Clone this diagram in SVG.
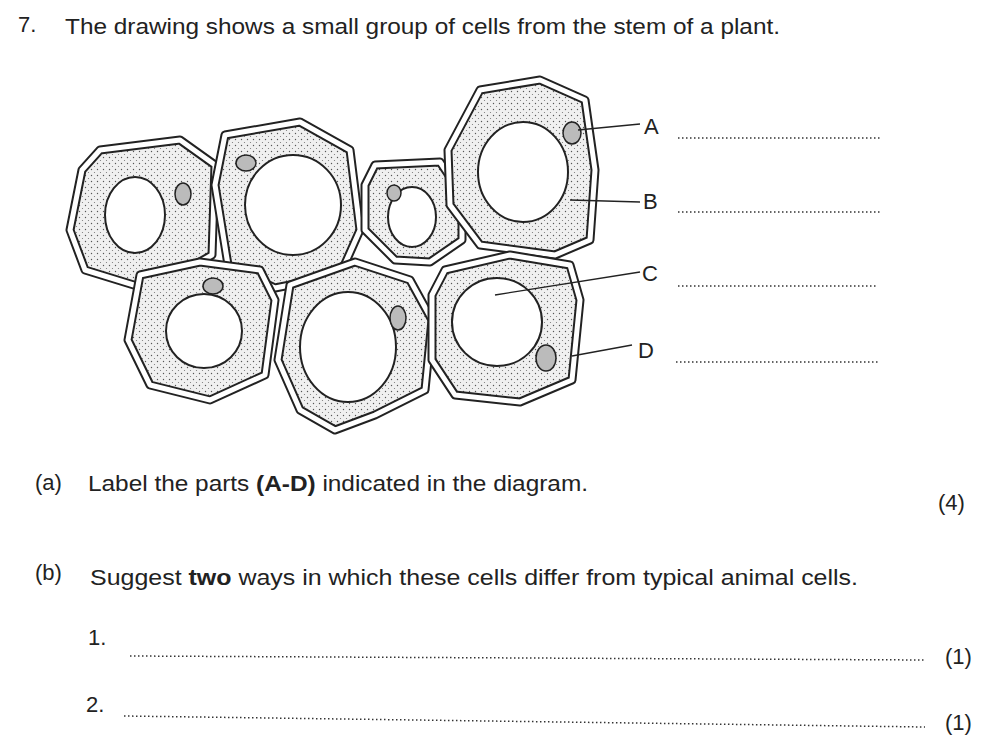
<svg xmlns="http://www.w3.org/2000/svg" width="1000" height="753" viewBox="0 0 1000 753">
<defs>
<pattern id="st" width="6" height="6" patternUnits="userSpaceOnUse"><rect width="6" height="6" fill="#f0f0f0"/><circle cx="1.5" cy="1.5" r="0.7" fill="#555"/><circle cx="4.5" cy="4.5" r="0.6" fill="#777"/></pattern>
</defs>
<style>
.w1{fill:url(#st);stroke:#222;stroke-width:9;stroke-linejoin:round}
.w2{fill:none;stroke:#fff;stroke-width:5;stroke-linejoin:round}
.v{fill:#fff;stroke:#222;stroke-width:2}
.n{fill:#bbb;stroke:#222;stroke-width:1.5}
.t{font-family:"Liberation Sans",Arial,sans-serif;font-size:22px;fill:#222}
.l{stroke:#222;stroke-width:1.3;fill:none}
.d{stroke:#333;stroke-width:1.5;stroke-dasharray:1.5 2.5;fill:none}
</style>
<text class="t" x="18" y="32">7.</text>
<text class="t" x="65" y="34" textLength="715" lengthAdjust="spacingAndGlyphs">The drawing shows a small group of cells from the stem of a plant.</text>
<g id="cells">
<g id="cell1"><polygon class="w1" points="100,150 180,140 215,165 212,255 150,290 85,270 70,230 82,170"/><polygon class="w2" points="100,150 180,140 215,165 212,255 150,290 85,270 70,230 82,170"/><ellipse class="v" cx="135" cy="215" rx="30" ry="38"/><ellipse class="n" cx="183" cy="194" rx="8" ry="11"/></g>
<g id="cell2"><polygon class="w1" points="225,135 300,122 350,150 360,230 340,275 275,288 228,265 215,185"/><polygon class="w2" points="225,135 300,122 350,150 360,230 340,275 275,288 228,265 215,185"/><ellipse class="v" cx="293" cy="205" rx="48" ry="50"/><ellipse class="n" cx="246" cy="163" rx="10" ry="8"/></g>
<g id="cell3"><polygon class="w1" points="375,165 440,162 462,195 462,240 430,262 395,260 365,230 365,185"/><polygon class="w2" points="375,165 440,162 462,195 462,240 430,262 395,260 365,230 365,185"/><ellipse class="v" cx="412" cy="217" rx="24" ry="30"/><ellipse class="n" cx="394" cy="193" rx="7" ry="8"/></g>
<g id="cell4"><polygon class="w1" points="480,90 540,80 585,100 595,170 590,240 555,255 480,245 450,205 448,150"/><polygon class="w2" points="480,90 540,80 585,100 595,170 590,240 555,255 480,245 450,205 448,150"/><ellipse class="v" cx="523" cy="172" rx="45" ry="50"/><ellipse class="n" cx="572" cy="133" rx="9" ry="11"/></g>
<g id="cell5"><polygon class="w1" points="140,275 200,262 260,270 275,300 265,375 210,400 150,385 128,340"/><polygon class="w2" points="140,275 200,262 260,270 275,300 265,375 210,400 150,385 128,340"/><ellipse class="v" cx="204" cy="331" rx="38" ry="37"/><ellipse class="n" cx="213" cy="286" rx="10" ry="8"/></g>
<g id="cell6"><polygon class="w1" points="290,285 355,262 410,280 432,320 425,390 375,415 335,430 300,410 278,360"/><polygon class="w2" points="290,285 355,262 410,280 432,320 425,390 375,415 335,430 300,410 278,360"/><ellipse class="v" cx="348" cy="347" rx="48" ry="55"/><ellipse class="n" cx="398" cy="318" rx="8" ry="12"/></g>
<g id="cell7"><polygon class="w1" points="445,270 510,255 570,265 580,300 572,380 520,402 455,395 432,360 432,295"/><polygon class="w2" points="445,270 510,255 570,265 580,300 572,380 520,402 455,395 432,360 432,295"/><ellipse class="v" cx="497" cy="322" rx="45" ry="44"/><ellipse class="n" cx="546" cy="358" rx="10" ry="13"/></g>
</g>
<g id="connectors">
<line class="l" x1="578" y1="130" x2="640" y2="124"/>
<line class="l" x1="570" y1="200" x2="640" y2="202"/>
<line class="l" x1="495" y1="295" x2="640" y2="272"/>
<line class="l" x1="572" y1="356" x2="632" y2="345"/>
</g>
<g id="labels">
<text class="t" x="644" y="134">A</text><line class="d" x1="678" y1="138" x2="880" y2="138"/>
<text class="t" x="643" y="209">B</text><line class="d" x1="678" y1="212" x2="880" y2="212"/>
<text class="t" x="642" y="281">C</text><line class="d" x1="678" y1="286" x2="878" y2="286"/>
<text class="t" x="638" y="358">D</text><line class="d" x1="676" y1="362" x2="878" y2="362"/>
</g>
<text class="t" x="35" y="490">(a)</text>
<text class="t" x="88" y="491" textLength="500" lengthAdjust="spacingAndGlyphs">Label the parts <tspan font-weight="bold">(A-D)</tspan> indicated in the diagram.</text>
<text class="t" x="938" y="510">(4)</text>
<text class="t" x="35" y="580">(b)</text>
<text class="t" x="90" y="585" textLength="768" lengthAdjust="spacingAndGlyphs">Suggest <tspan font-weight="bold">two</tspan> ways in which these cells differ from typical animal cells.</text>
<text class="t" x="88" y="645">1.</text><line class="d" x1="130" y1="656" x2="925" y2="660"/><text class="t" x="945" y="664">(1)</text>
<text class="t" x="86" y="712">2.</text><line class="d" x1="124" y1="716" x2="925" y2="727"/><text class="t" x="945" y="730">(1)</text>
</svg>
